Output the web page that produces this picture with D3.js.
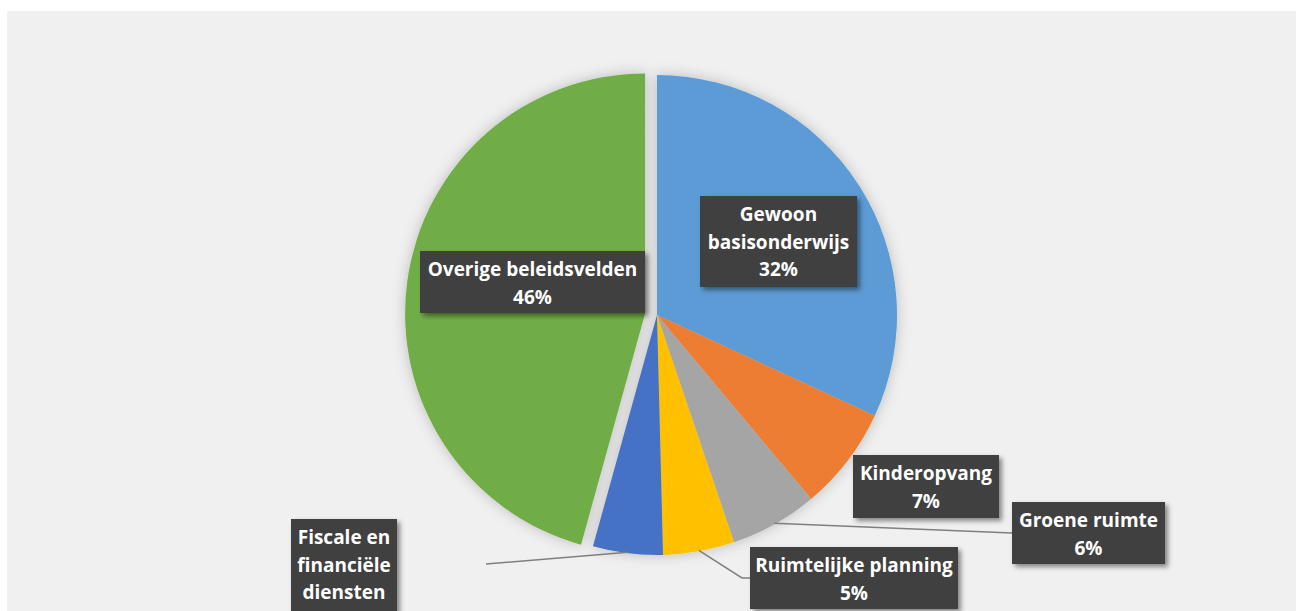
<!DOCTYPE html>
<html>
<head>
<meta charset="utf-8">
<script src="https://cdn.jsdelivr.net/npm/d3@7"></script>
<style>
  html, body { margin: 0; padding: 0; background: #ffffff; overflow: hidden; }
  svg { display: block; }
  text { font-family: "Open Sans", Lato, "Liberation Sans", sans-serif; font-weight: 700; }
</style>
</head>
<body>
<svg id="chart" width="1296" height="611"></svg>
<script>
// Spending share per policy area (percent of total)
const categories = [
  "Gewoon basisonderwijs",
  "Kinderopvang",
  "Groene ruimte",
  "Ruimtelijke planning",
  "Fiscale en financiële diensten",
  "Overige beleidsvelden"
];
const values = [31.9, 7.0, 5.9, 4.8, 4.7, 45.7];
const colors = ["#5b9bd5", "#ed7d31", "#a5a5a5", "#ffc000", "#4472c4", "#70ad47"];

// How each category name wraps inside its label box
const labelLines = [
  ["Gewoon", "basisonderwijs"],
  ["Kinderopvang"],
  ["Groene ruimte"],
  ["Ruimtelijke planning"],
  ["Fiscale en", "financiële", "diensten"],
  ["Overige beleidsvelden"]
];

// Label box placement and optional leader-line bends
const labelLayout = [
  { x: 700, y: 196, w: 157, h: 91, leader: null },
  { x: 853, y: 455, w: 146, h: 63, leader: null },
  { x: 1012, y: 502, w: 153, h: 62, leader: [[1012, 533]] },
  { x: 750, y: 547, w: 208, h: 62, leader: [[742, 578], [750, 578]] },
  { x: 291, y: 519, w: 106, h: 118, leader: [[486, 564]] },
  { x: 420, y: 251, w: 225, h: 62, leader: null }
];

const W = 1296, H = 611;
const cx = 657, cy = 315, R = 240;
const explodeIndex = 5, explodeDist = 12;
const lineHeight = 27.5, firstLineOffset = 18.5;

const svg = d3.select("#chart");
const defs = svg.append("defs");

const pieShadow = defs.append("filter").attr("id", "pieShadow")
  .attr("x", "-20%").attr("y", "-20%").attr("width", "140%").attr("height", "140%");
pieShadow.append("feDropShadow").attr("dx", 0).attr("dy", 0)
  .attr("stdDeviation", 7).attr("flood-color", "#000").attr("flood-opacity", 0.22);

const boxShadow = defs.append("filter").attr("id", "boxShadow")
  .attr("x", "-20%").attr("y", "-20%").attr("width", "140%").attr("height", "150%");
boxShadow.append("feDropShadow").attr("dx", 3).attr("dy", 3)
  .attr("stdDeviation", 2.5).attr("flood-color", "#000").attr("flood-opacity", 0.45);

// chart area
svg.append("rect").attr("x", 7).attr("y", 11).attr("width", W - 7).attr("height", H - 11)
  .attr("fill", "#f0f0f0");

const total = d3.sum(values);
const pct = d3.format(".0%");
const data = categories.map((c, i) => ({ name: c, value: values[i], i }));

const pie = d3.pie().value(d => d.value).sort(null);
const arcs = pie(data);
const arc = d3.arc().innerRadius(0).outerRadius(R);

function offsetOf(a) {
  if (a.data.i !== explodeIndex) return [0, 0];
  const m = (a.startAngle + a.endAngle) / 2;
  return [Math.sin(m) * explodeDist, -Math.cos(m) * explodeDist];
}

const g = svg.append("g").attr("transform", `translate(${cx},${cy})`);

g.append("g").attr("filter", "url(#pieShadow)")
  .selectAll("path").data(arcs).join("path")
  .attr("d", arc)
  .attr("fill", d => colors[d.data.i])
  .attr("transform", d => { const o = offsetOf(d); return `translate(${o[0]},${o[1]})`; });

// leader lines
const leaders = g.append("g");
arcs.forEach(a => {
  const lay = labelLayout[a.data.i];
  if (!lay.leader) return;
  const m = (a.startAngle + a.endAngle) / 2;
  const o = offsetOf(a);
  const pts = [[Math.sin(m) * (R - 1) + o[0], -Math.cos(m) * (R - 1) + o[1]]]
    .concat(lay.leader.map(p => [p[0] - cx, p[1] - cy]));
  leaders.append("path")
    .attr("d", d3.line()(pts))
    .attr("fill", "none")
    .attr("stroke", "#7f7f7f")
    .attr("stroke-width", 1.5);
});

// labels
const labels = svg.append("g");
arcs.forEach(a => {
  const i = a.data.i;
  const lay = labelLayout[i];
  const lines = labelLines[i].concat([pct(a.data.value / total)]);
  const lg = labels.append("g");
  lg.append("rect")
    .attr("x", lay.x).attr("y", lay.y).attr("width", lay.w).attr("height", lay.h)
    .attr("fill", "#404040")
    .attr("filter", "url(#boxShadow)");
  const tx = lay.x + lay.w / 2;
  const firstY = lay.y + firstLineOffset;
  lg.selectAll("text").data(lines).join("text")
    .attr("x", tx)
    .attr("y", (d, k) => firstY + k * lineHeight)
    .attr("dy", "0.36em")
    .attr("text-anchor", "middle")
    .attr("fill", "#ffffff")
    .attr("font-size", 19)
    .text(d => d);
});
</script>
</body>
</html>
